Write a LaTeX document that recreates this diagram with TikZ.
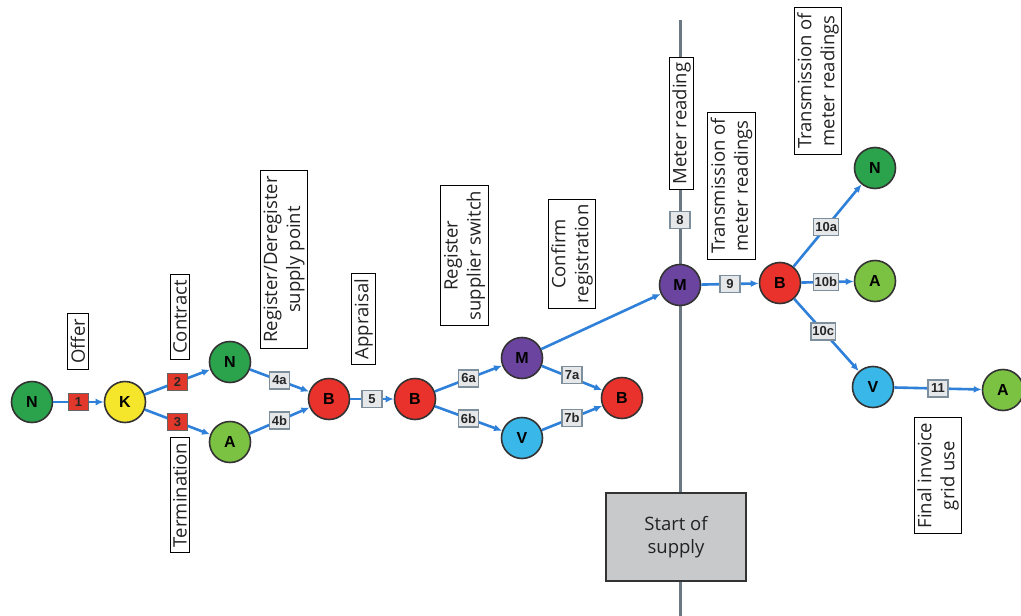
\documentclass[tikz,border=0pt]{standalone}
\usepackage{fontspec}
\setmainfont{Open Sans}
\newfontfamily\arialfont{Liberation Sans}
\usetikzlibrary{arrows.meta}
\definecolor{ngreen}{HTML}{2BA24C}
\definecolor{agreen}{HTML}{7CC242}
\definecolor{kyellow}{HTML}{F5E62B}
\definecolor{bred}{HTML}{E8322B}
\definecolor{mpurple}{HTML}{6A449E}
\definecolor{vcyan}{HTML}{39B7E8}
\definecolor{connblue}{HTML}{2F80D8}
\definecolor{lblred}{HTML}{E2372B}
\definecolor{lblgray}{HTML}{E6E7E8}
\definecolor{lblborder}{HTML}{7D8E9C}
\definecolor{vlinegray}{HTML}{6B7781}
\definecolor{startgray}{HTML}{C8C9CB}
\definecolor{txtdark}{HTML}{222222}
\tikzset{
  st/.style={circle, draw=black!80, line width=1.6pt, minimum size=41pt, inner sep=0pt,
    font=\arialfont\bfseries\fontsize{16}{16}\selectfont},
  lbl/.style={minimum width=20pt, minimum height=17pt, inner sep=1.5pt, line width=1.3pt,
    font=\arialfont\bfseries\fontsize{13}{13}\selectfont, text=black!85},
  redlbl/.style={lbl, fill=lblred, draw=black!60},
  graylbl/.style={lbl, fill=lblgray, draw=lblborder},
  conn/.style={draw=connblue, line width=2.6pt, -{Latex[length=8pt,width=7pt]}},
  txtbox/.style={draw=black, line width=1pt, fill=white, rotate=90, align=center,
    font=\fontsize{18.5}{23}\selectfont, text=txtdark, inner xsep=5.5pt, inner ysep=3pt},
  vline/.style={draw=vlinegray, line width=3pt}
}
\begin{document}
\begin{tikzpicture}[x=1pt,y=-1pt]
\useasboundingbox (0,0) rectangle (1021,616);
% vertical timeline
\coordinate (vtop) at (680,20);
\coordinate (vbot) at (680,616);
\draw[vline] (vtop) -- (vbot);
% states
\node[st, fill=ngreen] (n1) at (32,402) {N};
\node[st, fill=kyellow] (k) at (125,402) {K};
\node[st, fill=ngreen] (n2) at (230,362) {N};
\node[st, fill=agreen] (a1) at (230,442) {A};
\node[st, fill=bred] (b1) at (329,399) {B};
\node[st, fill=bred] (b2) at (415,399) {B};
\node[st, fill=mpurple] (m1) at (522,358) {M};
\node[st, fill=vcyan] (v1) at (522,438) {V};
\node[st, fill=bred] (b3) at (622,398) {B};
\node[st, fill=mpurple] (m2) at (680,285) {M};
\node[st, fill=bred] (b4) at (780,283) {B};
\node[st, fill=ngreen] (n3) at (875,168) {N};
\node[st, fill=agreen] (a2) at (875,281) {A};
\node[st, fill=vcyan] (v2) at (873,387) {V};
\node[st, fill=agreen] (a3) at (1003,390) {A};
% connectors
\draw[conn] (n1) -- node[redlbl] (l1) {1} (k);
\draw[conn] (k) -- node[redlbl] (l2) {2} (n2);
\draw[conn] (k) -- node[redlbl] (l3) {3} (a1);
\draw[conn] (n2) -- node[graylbl] (l4a) {4a} (b1);
\draw[conn] (a1) -- node[graylbl] (l4b) {4b} (b1);
\draw[conn] (b1) -- node[graylbl] (l5) {5} (b2);
\draw[conn] (b2) -- node[graylbl] (l6a) {6a} (m1);
\draw[conn] (b2) -- node[graylbl] (l6b) {6b} (v1);
\draw[conn] (m1) -- node[graylbl, pos=0.5, yshift=3pt] (l7a) {7a} (b3);
\draw[conn] (v1) -- node[graylbl] (l7b) {7b} (b3);
\draw[conn] (m1) -- (m2);
\draw[conn] (m2) -- node[graylbl] (l9) {9} (b4);
\draw[conn] (b4) -- node[graylbl, pos=0.48] (l10a) {10a} (n3);
\draw[conn] (b4) -- node[graylbl, pos=0.47] (l10b) {10b} (a2);
\draw[conn] (b4) -- node[graylbl, pos=0.45] (l10c) {10c} (v2);
\draw[conn] (v2) -- node[graylbl] (l11) {11} (a3);
\node[graylbl] (l8) at (680,220) {8};
% text boxes
\node[txtbox] (offer) at (78,341.5) {Offer};
\node[txtbox] (contract) at (180,317) {Contract};
\node[txtbox] (termination) at (180,495) {Termination};
\node[txtbox] (register) at (284,259.5) {Register/Deregister\\supply point};
\node[txtbox] (appraisal) at (363.5,319) {Appraisal};
\node[txtbox] (switch) at (464.5,255.5) {Register\\supplier switch};
\node[txtbox] (confirm) at (572,254) {Confirm\\registration};
\node[txtbox] (meter) at (681.5,123.5) {Meter reading};
\node[txtbox] (trans1) at (731.5,186) {Transmission of\\meter readings};
\node[txtbox] (trans2) at (818,81) {Transmission of\\meter readings};
\node[txtbox] (invoice) at (938,475.5) {Final invoice\\grid use};
\node[draw=black!80, line width=1.2pt, fill=startgray, minimum width=140pt, minimum height=88pt,
  align=center, font=\fontsize{18.5}{23}\selectfont, text=txtdark] (start) at (676,537) {Start of\\supply};
\end{tikzpicture}
\end{document}
